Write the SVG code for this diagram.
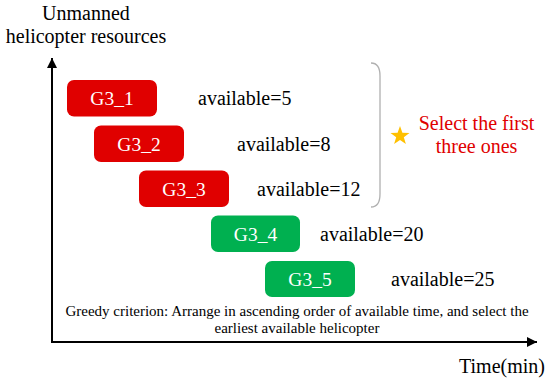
<svg xmlns="http://www.w3.org/2000/svg" width="550" height="385" viewBox="0 0 550 385">
<defs>
<marker id="arr" viewBox="0 0 10 10" refX="10" refY="5" markerWidth="5" markerHeight="5" orient="auto" markerUnits="strokeWidth">
<path d="M0,0 L10,5 L0,10 Z" fill="#000"/>
</marker>
<style>
text{font-family:"Liberation Serif","Times New Roman",serif;}
.lab{font-size:20px;fill:#000;}
.box-t{font-size:19.5px;fill:#fff;text-anchor:middle;}
.red{fill:#E00000;}
.green{fill:#00B050;}
</style>
</defs>
<rect width="550" height="385" fill="#fff"/>
<g id="connectors">
<path d="M52,342 L52,58" stroke="#000" stroke-width="2" fill="none" marker-end="url(#arr)"/>
<path d="M51,342 L537,342" stroke="#000" stroke-width="2" fill="none" marker-end="url(#arr)"/>
<path d="M371,63 Q380,63 380,76 L380,194 Q380,207 371,207" stroke="#B0B0B0" stroke-width="1.3" fill="none"/>
</g>
<g id="axis-labels">
<text class="lab" x="86" y="20" text-anchor="middle">Unmanned</text>
<text class="lab" x="86" y="43" text-anchor="middle">helicopter resources</text>
<text class="lab" x="459" y="373">Time(min)</text>
</g>
<g id="G3_1"><rect class="red" x="67" y="80" width="90" height="36.5" rx="7"/><text class="box-t" x="112" y="105">G3_1</text><text class="lab" x="198" y="105">available=5</text></g>
<g id="G3_2"><rect class="red" x="94" y="125.5" width="90" height="36.5" rx="7"/><text class="box-t" x="139" y="150.5">G3_2</text><text class="lab" x="237" y="150.5">available=8</text></g>
<g id="G3_3"><rect class="red" x="139" y="170.5" width="90" height="36.5" rx="7"/><text class="box-t" x="184" y="195.5">G3_3</text><text class="lab" x="257" y="195.5">available=12</text></g>
<g id="G3_4"><rect class="green" x="211" y="215.5" width="89" height="36.5" rx="7"/><text class="box-t" x="255.5" y="240.5">G3_4</text><text class="lab" x="320" y="240.5">available=20</text></g>
<g id="G3_5"><rect class="green" x="265" y="261" width="90" height="36" rx="7"/><text class="box-t" x="310" y="286">G3_5</text><text class="lab" x="391" y="286">available=25</text></g>
<g id="select">
<polygon points="400,126 402.4,132.7 409.5,132.9 403.8,137.3 405.9,144.1 400,140.1 394.1,144.1 396.2,137.3 390.5,132.9 397.6,132.7" fill="#FFC000"/>
<text x="476.5" y="130" font-size="20" fill="#E00000" text-anchor="middle">Select the first</text>
<text x="476.5" y="153" font-size="20" fill="#E00000" text-anchor="middle">three ones</text>
</g>
<g id="criterion">
<text x="297" y="316" font-size="15" fill="#000" text-anchor="middle">Greedy criterion: Arrange in ascending order of available time, and select the</text>
<text x="297" y="333" font-size="15" fill="#000" text-anchor="middle">earliest available helicopter</text>
</g>
</svg>
